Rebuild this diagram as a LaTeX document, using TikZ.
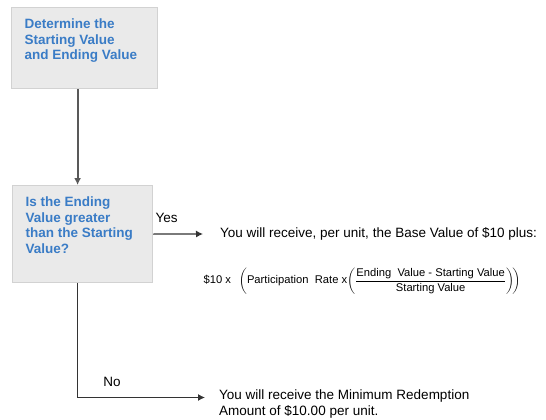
\documentclass[tikz,border=0pt]{standalone}
\usepackage{amsmath}
\usepackage{fontspec}
\setmainfont{Liberation Sans}
\usetikzlibrary{arrows.meta}
\usetikzlibrary{positioning}
\usetikzlibrary{calc}
\definecolor{boxfill}{HTML}{EAEAEA}
\definecolor{boxline}{HTML}{D2D2D2}
\definecolor{boxblue}{HTML}{3A7CC6}

\begin{document}
\begin{tikzpicture}[x=1pt, y=-1pt,
    stepbox/.style={draw=boxline, line width=1.2pt, fill=boxfill, anchor=north west, inner xsep=13pt, inner ysep=11.5pt, text=boxblue, font=\fontsize{13.5}{15.5}\selectfont\bfseries},
    plain/.style={inner sep=0pt, font=\fontsize{13.5}{16}\selectfont},
    link/.style={draw=black!80, line width=1.2pt, -{Latex[length=7pt,width=7pt]}},
    feed/.style={draw=black!65, line width=2pt, -{Latex[length=7pt,width=7pt]}}]
                  \useasboundingbox (0,0) rectangle (546,420);
                  \node[stepbox] (start) at (11,7) {\parbox[t][58pt][t]{120pt}{\raggedright Determine the\\Starting Value\\and Ending Value}};
                  \node[stepbox] (decide) at (12,185) {\parbox[t][74pt][t]{114pt}{\raggedright Is the Ending\\Value greater\\than~the~Starting\\Value?}};

                  \node[plain, anchor=west] (yesText) at (220,234) {You will receive, per unit, the Base Value of \$10 plus:};
                  \node[plain, font=\fontsize{11.2}{13}\selectfont] (rate) at (362,281) {$\text{\$10 x}\;\;\left(\text{Participation\ \ Rate x}\!\left(\dfrac{\text{Ending\ \ Value - Starting Value}}{\text{Starting Value}}\right)\!\right)$};
                  \node[plain, anchor=north west, align=left] (noText) at (219,390) {You will receive the Minimum Redemption\\Amount of \$10.00 per unit.};

                  \draw[feed] ([xshift=-7pt]start.south) -- ([xshift=-7pt]start.south |- decide.north);
                  \draw[link] (decide.east) -- ([xshift=-17pt]yesText.west) node[plain, pos=0.27, above=11pt] (yes) {Yes};
                  \draw[link] ([xshift=-5pt]decide.south) |- ([xshift=-14pt,yshift=7pt]noText.west) node[plain, pos=0.635, above=10pt] (no) {No};
              \end{tikzpicture}
\end{document}
